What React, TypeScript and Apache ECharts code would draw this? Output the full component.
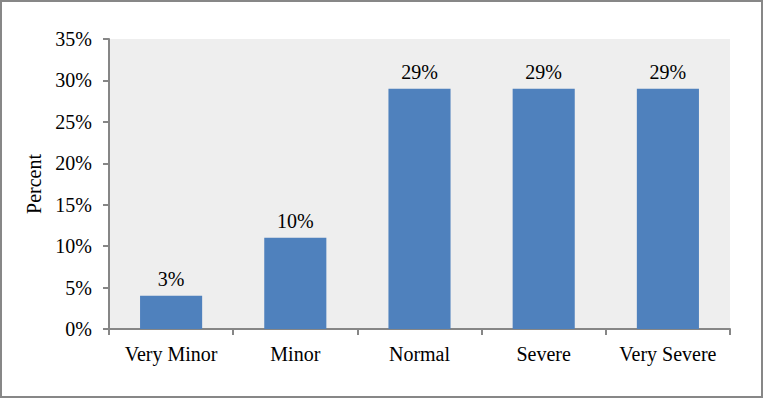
import React, { useEffect, useRef } from "react";
import * as echarts from "echarts";

const categories = ["Very Minor", "Minor", "Normal", "Severe", "Very Severe"];
const values = [4, 11, 29, 29, 29];
const valueLabels = ["3%", "10%", "29%", "29%", "29%"];
const yTicks = { min: 0, max: 35, interval: 5 };

export default function App() {
  const ref = useRef<HTMLDivElement>(null);
  useEffect(() => {
    document.body.style.margin = "0";
    const chart = echarts.init(ref.current!, null, { renderer: "svg" });
    const font = "'Liberation Serif', 'Times New Roman', serif";
    const fs = 20;
    chart.setOption({
      animation: false,
      textStyle: { fontFamily: font },
      graphic: [
        {
          type: "rect",
          shape: { x: 1, y: 1, width: 761, height: 396 },
          style: { fill: "none", stroke: "#878787", lineWidth: 2 },
          silent: true,
        },
      ],
      grid: {
        left: 109,
        top: 39,
        right: 33,
        bottom: 69,
        show: true,
        backgroundColor: "#eeeeee",
        borderWidth: 0,
      },
      xAxis: {
        type: "category",
        data: categories,
        axisLine: { lineStyle: { color: "#868686", width: 2 } },
        axisTick: { show: true, length: 6, lineStyle: { color: "#868686", width: 2 } },
        axisLabel: { color: "#000", fontSize: fs, fontFamily: font, margin: 15, interval: 0, hideOverlap: false },
      },
      yAxis: {
        type: "value",
        min: yTicks.min,
        max: yTicks.max,
        interval: yTicks.interval,
        name: "Percent",
        nameLocation: "middle",
        nameRotate: 90,
        nameGap: 63,
        nameTextStyle: { color: "#000", fontSize: fs, fontFamily: font },
        axisLine: { show: true, lineStyle: { color: "#868686", width: 2 } },
        axisTick: { show: true, length: 6, lineStyle: { color: "#868686", width: 2 } },
        splitLine: { show: false },
        axisLabel: {
          color: "#000",
          fontSize: fs,
          fontFamily: font,
          margin: 17,
          formatter: (v: number) => v + "%",
        },
      },
      series: [
        {
          type: "bar",
          data: values,
          barWidth: "50%",
          itemStyle: { color: "#4f81bd" },
          label: {
            show: true,
            position: "top",
            distance: 7,
            color: "#000",
            fontSize: fs,
            fontFamily: font,
            formatter: (p: any) => valueLabels[p.dataIndex],
          },
        },
      ],
    });
    return () => chart.dispose();
  }, []);
  return <div ref={ref} style={{ width: 763, height: 398 }} />;
}
